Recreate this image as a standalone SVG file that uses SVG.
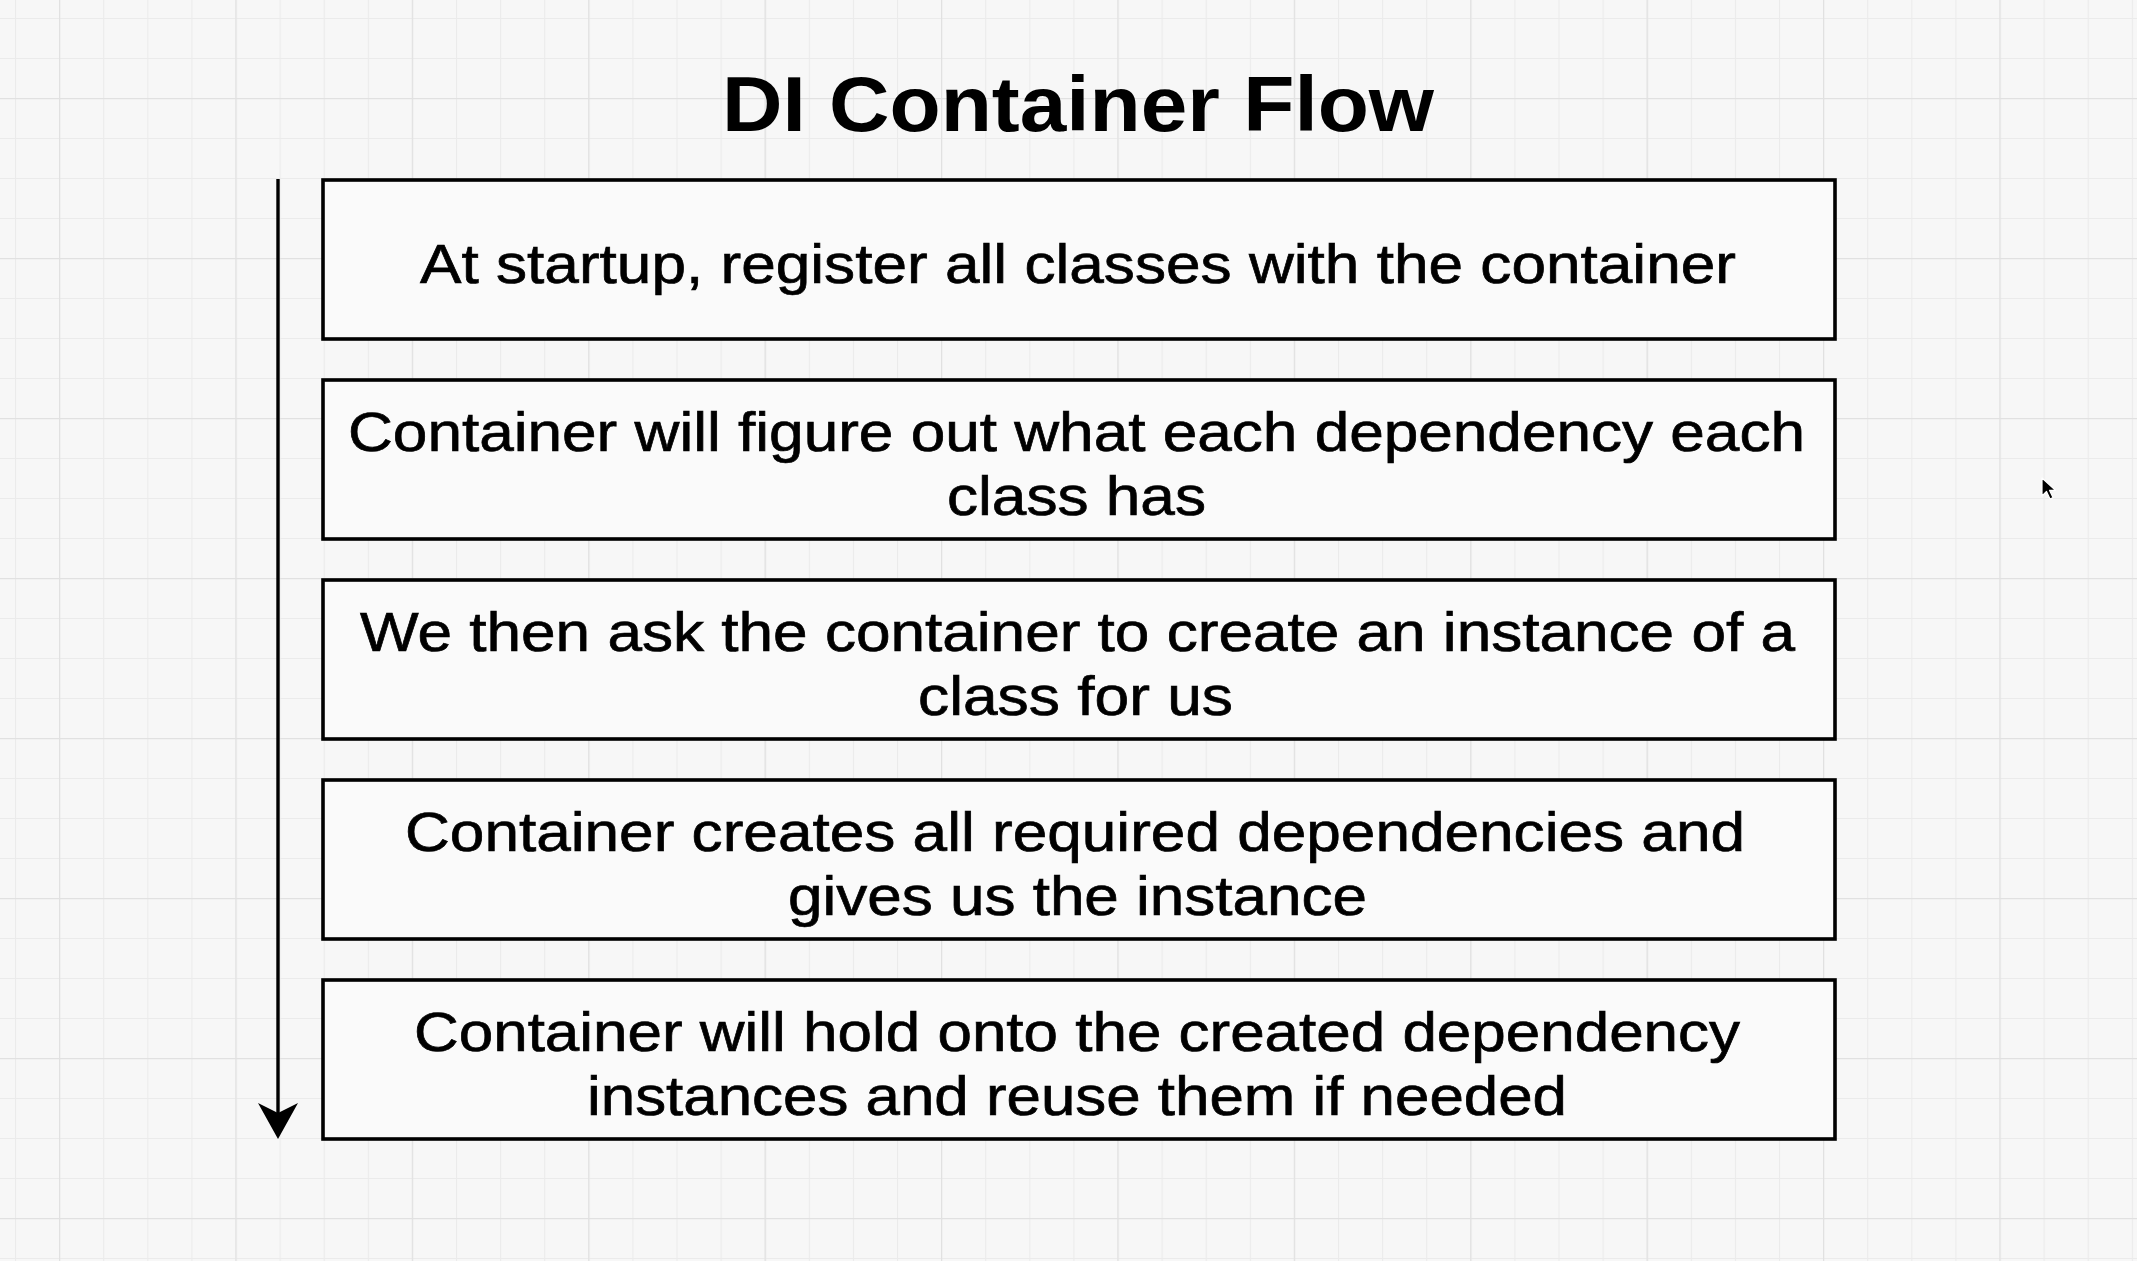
<svg xmlns="http://www.w3.org/2000/svg" width="2137" height="1261" viewBox="0 0 2137 1261">
  <defs>
    <pattern id="gridMinor" patternUnits="userSpaceOnUse" x="15" y="18" width="44.1" height="40">
      <path d="M0.5,0 V40 M0,0.5 H44.1" fill="none" stroke="#ebebeb" stroke-width="1.2"/>
    </pattern>
    <pattern id="gridMajor" patternUnits="userSpaceOnUse" x="59" y="98" width="176.4" height="160">
      <path d="M0.5,0 V160 M0,0.5 H176.4" fill="none" stroke="#e1e1e1" stroke-width="1.5"/>
    </pattern>
  </defs>
  <style>
    .box { fill: #fafafa; stroke: #000; stroke-width: 3.6; }
    .label { font-family: "Liberation Sans", Arial, Helvetica, sans-serif; font-size: 56px; fill: #000; stroke: #000; stroke-width: 0.7; }
    .title { font-family: "Liberation Sans", Arial, Helvetica, sans-serif; font-size: 77px; font-weight: bold; fill: #000; }
    .flow { stroke: #000; stroke-width: 3.4; fill: none; }
  </style>

  <rect x="0" y="0" width="2137" height="1261" fill="#f7f7f7"/>
  <rect x="0" y="0" width="2137" height="1261" fill="url(#gridMinor)"/>
  <rect x="0" y="0" width="2137" height="1261" fill="url(#gridMajor)"/>

  <g id="title">
    <text class="title" x="722" y="131" textLength="712" lengthAdjust="spacingAndGlyphs">DI Container Flow</text>
  </g>

  <g id="connectors">
    <line class="flow" x1="278" y1="179" x2="278" y2="1114"/>
    <path d="M278,1139 L258,1103 L278,1113 L298,1103 Z" fill="#000"/>
  </g>

  <g id="step1">
    <rect class="box" x="323" y="180" width="1512" height="159"/>
    <text class="label" x="420" y="283" textLength="1316" lengthAdjust="spacingAndGlyphs">At startup, register all classes with the container</text>
  </g>

  <g id="step2">
    <rect class="box" x="323" y="380" width="1512" height="159"/>
    <text class="label" x="348" y="451" textLength="1457" lengthAdjust="spacingAndGlyphs">Container will figure out what each dependency each</text>
    <text class="label" x="947" y="515" textLength="259" lengthAdjust="spacingAndGlyphs">class has</text>
  </g>

  <g id="step3">
    <rect class="box" x="323" y="580" width="1512" height="159"/>
    <text class="label" x="360" y="651" textLength="1435" lengthAdjust="spacingAndGlyphs">We then ask the container to create an instance of a</text>
    <text class="label" x="918" y="715" textLength="315" lengthAdjust="spacingAndGlyphs">class for us</text>
  </g>

  <g id="step4">
    <rect class="box" x="323" y="780" width="1512" height="159"/>
    <text class="label" x="405" y="851" textLength="1340" lengthAdjust="spacingAndGlyphs">Container creates all required dependencies and</text>
    <text class="label" x="788" y="915" textLength="579" lengthAdjust="spacingAndGlyphs">gives us the instance</text>
  </g>

  <g id="step5">
    <rect class="box" x="323" y="980" width="1512" height="159"/>
    <text class="label" x="414" y="1051" textLength="1326" lengthAdjust="spacingAndGlyphs">Container will hold onto the created dependency</text>
    <text class="label" x="587" y="1115" textLength="980" lengthAdjust="spacingAndGlyphs">instances and reuse them if needed</text>
  </g>

  <g id="cursor">
    <path d="M2042,478 L2042,496 L2046.5,491.5 L2050,499 L2053,497.6 L2049.6,490.4 L2055.5,490.4 Z" fill="#000" stroke="#fff" stroke-width="1.2" stroke-linejoin="round"/>
  </g>
</svg>
